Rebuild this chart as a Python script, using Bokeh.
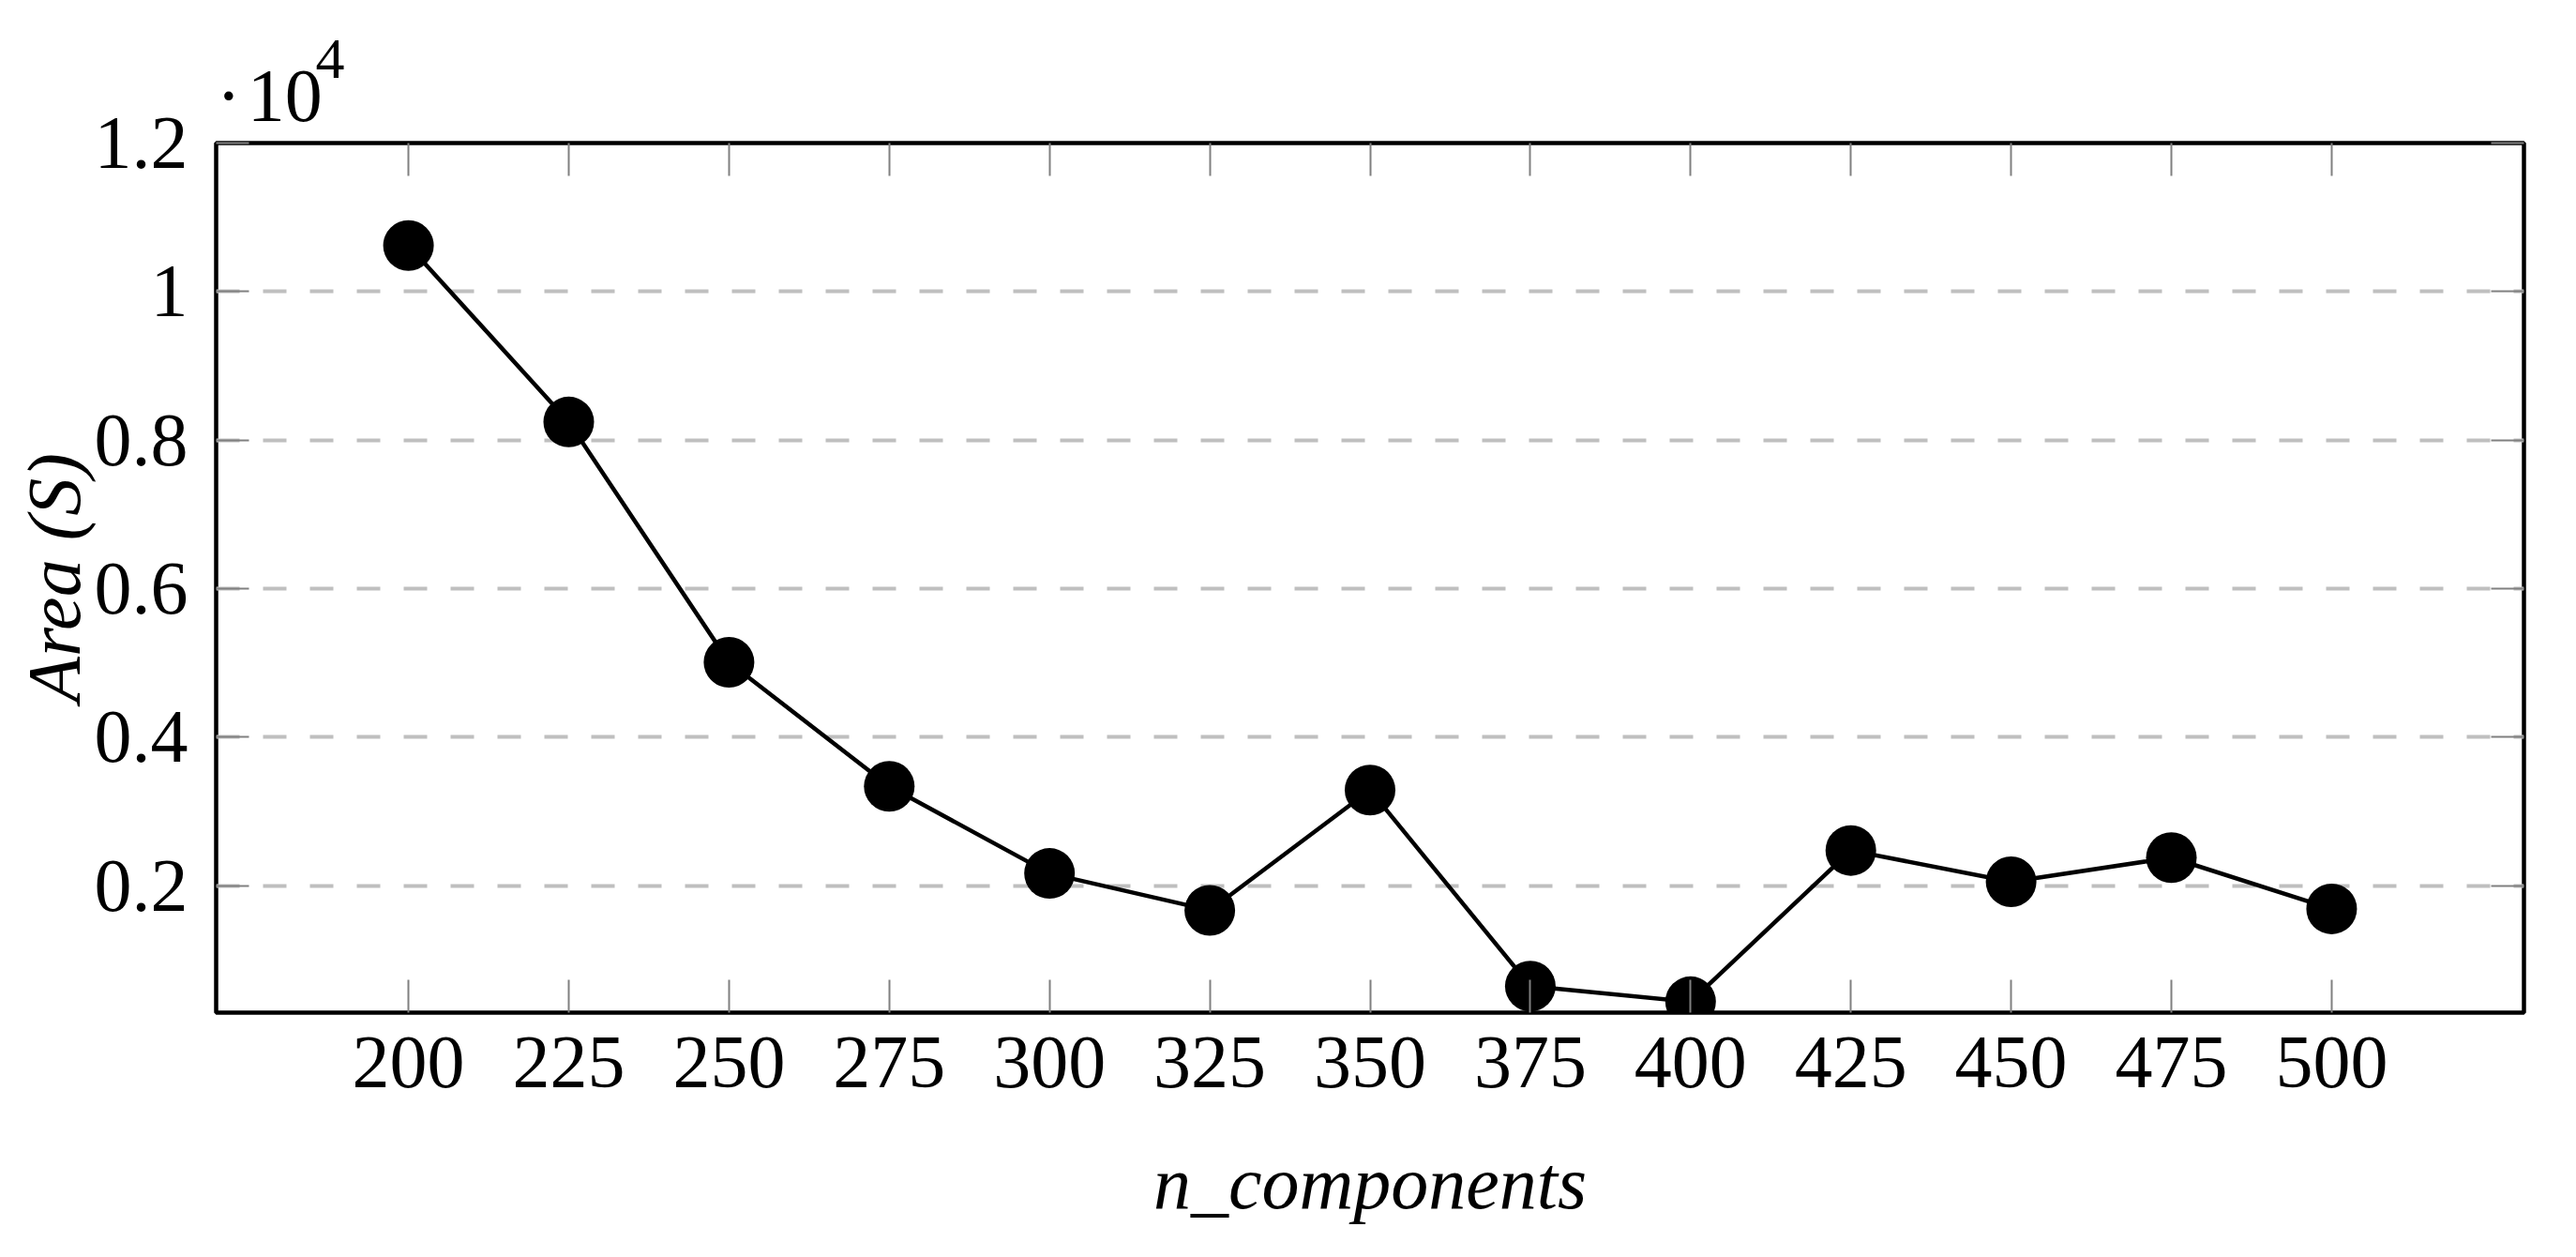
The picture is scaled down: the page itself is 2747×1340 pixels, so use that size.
from bokeh.plotting import figure
from bokeh.models import FixedTicker, LinearAxis, Range1d, Title
from bokeh.embed import file_html
from bokeh.resources import INLINE

# ---- data ----
n_components = [200, 225, 250, 275, 300, 325, 350, 375, 400, 425, 450, 475, 500]
area = [10620, 8245, 5010, 3340, 2167, 1670, 3290, 650, 440, 2476, 2055, 2380, 1690]
scale = 1e4
x_ticks = [200, 225, 250, 275, 300, 325, 350, 375, 400, 425, 450, 475, 500]
y_ticks = [0.2, 0.4, 0.6, 0.8, 1.0, 1.2]
y_tick_labels = ["0.2", "0.4", "0.6", "0.8", "1", "1.2"]
grid_ticks = [0.2, 0.4, 0.6, 0.8, 1.0]
scale_text = "\u00b7\u200a10"
scale_exp = "4"

y_vals = [a / scale for a in area]

FONT = "Liberation Serif"
FS = "80px"
TICK_GRAY = "#808080"

p = figure(width=2731, height=1324, output_backend="svg", toolbar_location=None,
           x_range=Range1d(170, 530), y_range=Range1d(0.0293, 1.2),
           min_border_left=230, min_border_right=40, min_border_top=152, min_border_bottom=245)
p.background_fill_color = "white"
p.border_fill_color = "white"
p.outline_line_color = "black"
p.outline_line_width = 4.5
p.title.visible = False

# grid
p.xgrid.visible = False
p.ygrid.ticker = FixedTicker(ticks=grid_ticks)
p.ygrid.grid_line_color = "#bfbfbf"
p.ygrid.grid_line_width = 4
p.ygrid.grid_line_dash = "25 25"

def style_axis(ax):
    ax.axis_line_color = None
    ax.major_tick_in = 35
    ax.major_tick_out = 0
    ax.major_tick_line_color = TICK_GRAY
    ax.major_tick_line_width = 2
    ax.minor_tick_in = 35
    ax.minor_tick_out = 0
    ax.minor_tick_line_color = TICK_GRAY
    ax.minor_tick_line_width = 2
    ax.major_label_text_font = FONT
    ax.major_label_text_color = "black"
    ax.major_label_text_font_size = FS
    ax.axis_label_text_font = FONT
    ax.axis_label_text_font_size = FS
    ax.axis_label_text_font_style = "italic"
    ax.axis_label_text_color = "black"

xa = p.xaxis[0]
style_axis(xa)
xa.ticker = FixedTicker(ticks=x_ticks)
xa.minor_tick_line_color = None
xa.major_label_standoff = 26
xa.axis_label = "n_components"
xa.axis_label_standoff = 55

ya = p.yaxis[0]
style_axis(ya)
ya.ticker = FixedTicker(ticks=y_ticks)
ya.minor_tick_line_color = None
ya.major_label_overrides = {t: s for t, s in zip(y_ticks, y_tick_labels)}
ya.major_label_standoff = 30
ya.axis_label = "Area (S)"
ya.axis_label_standoff = -4

# mirrored ticks (top / right) drawn as minor ticks, so no labels exist there
top_ax = LinearAxis(ticker=FixedTicker(ticks=[], minor_ticks=x_ticks))
style_axis(top_ax)
top_ax.major_label_standoff = 0
p.add_layout(top_ax, "above")

right_ax = LinearAxis(ticker=FixedTicker(ticks=[], minor_ticks=y_ticks))
style_axis(right_ax)
right_ax.major_label_standoff = 0
p.add_layout(right_ax, "right")

# data
p.line(n_components, y_vals, line_color="black", line_width=4.5)
p.scatter(n_components, y_vals, size=54, fill_color="black", line_color=None)

# scale label  ·10^4 as titles above the frame
t1 = Title(text=scale_text, align="left", offset=0, standoff=13,
           text_font=FONT, text_font_size=FS, text_font_style="normal",
           text_color="black")
p.add_layout(t1, "above")
t2 = Title(text=scale_exp, align="left", offset=106, standoff=-67,
           text_font=FONT, text_font_size="62px", text_font_style="normal",
           text_color="black")
p.add_layout(t2, "above")

open("out.html", "w").write(file_html(p, INLINE))
